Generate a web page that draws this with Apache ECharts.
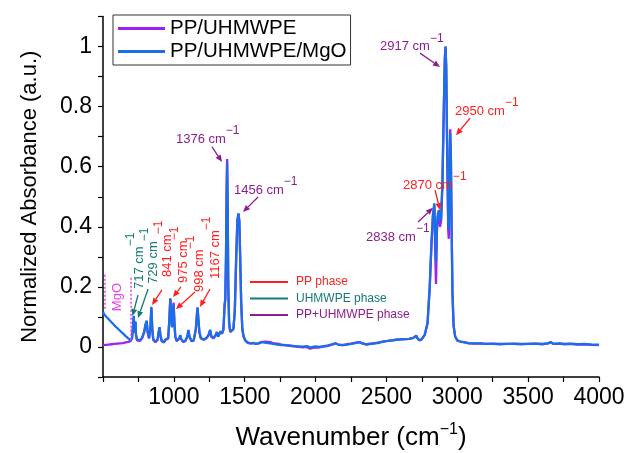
<!DOCTYPE html>
<html><head><meta charset="utf-8">
<script src="https://cdn.jsdelivr.net/npm/echarts@6/dist/echarts.min.js"></script>
<style>html,body{margin:0;padding:0;background:#fff}#c{width:629px;height:453px}</style>
</head><body><div id="c"></div>
<script>
// ---- data ----
const wavenumbers = [500,506,520,540,560,580,600,620,640,660,680,695,705,712,717,721,725,729,733,740,750,760,775,790,800,808,815,825,834,841,848,855,870,885,893,899,905,915,930,941,950,960,968,975,981,987,993,998,1004,1010,1020,1030,1040,1045,1050,1065,1080,1095,1103,1110,1125,1140,1155,1163,1167,1172,1180,1190,1210,1230,1245,1256,1265,1280,1295,1304,1312,1322,1330,1340,1350,1358,1363,1368,1372,1376,1380,1384,1390,1398,1410,1420,1430,1440,1448,1456,1462,1468,1475,1483,1492,1505,1520,1540,1560,1580,1600,1620,1650,1680,1700,1730,1760,1790,1820,1850,1880,1910,1940,1960,1980,2000,2020,2050,2080,2110,2140,2160,2190,2220,2250,2280,2310,2330,2360,2390,2420,2450,2480,2510,2540,2570,2600,2630,2660,2690,2710,2720,2735,2750,2770,2790,2805,2818,2828,2838,2845,2850,2856,2862,2870,2878,2886,2895,2905,2912,2917,2922,2929,2936,2940,2945,2950,2955,2960,2966,2974,2985,3000,3020,3050,3080,3120,3160,3200,3250,3300,3350,3400,3450,3500,3550,3600,3640,3660,3680,3720,3760,3800,3850,3900,3950,4000];
const mgoValues = [0.118,0.110,0.102,0.092,0.082,0.072,0.063,0.054,0.045,0.036,0.028,0.022,0.030,0.070,0.104,0.060,0.050,0.085,0.040,0.025,0.020,0.022,0.030,0.050,0.075,0.088,0.050,0.030,0.060,0.134,0.060,0.025,0.018,0.025,0.050,0.066,0.040,0.020,0.017,0.025,0.020,0.030,0.090,0.162,0.100,0.065,0.100,0.142,0.080,0.035,0.020,0.022,0.030,0.040,0.028,0.018,0.020,0.035,0.057,0.035,0.020,0.022,0.060,0.110,0.132,0.100,0.050,0.030,0.025,0.030,0.040,0.057,0.035,0.030,0.040,0.050,0.035,0.040,0.052,0.045,0.060,0.140,0.160,0.300,0.500,0.612,0.450,0.200,0.080,0.050,0.048,0.060,0.120,0.300,0.420,0.445,0.420,0.300,0.150,0.060,0.035,0.022,0.015,0.012,0.014,0.010,0.012,0.016,0.014,0.012,0.010,0.008,0.006,0.005,0.004,0.003,0.002,0.001,0.003,-0.002,0.000,0.002,0.000,0.002,0.004,0.008,0.012,0.008,0.006,0.008,0.010,0.013,0.016,0.012,0.008,0.010,0.012,0.014,0.018,0.020,0.022,0.024,0.025,0.026,0.027,0.030,0.038,0.028,0.022,0.026,0.040,0.080,0.200,0.350,0.440,0.478,0.350,0.280,0.400,0.440,0.456,0.420,0.430,0.550,0.800,0.960,1.000,0.930,0.650,0.420,0.390,0.550,0.712,0.620,0.400,0.180,0.070,0.035,0.022,0.018,0.016,0.013,0.012,0.012,0.010,0.011,0.010,0.010,0.011,0.010,0.010,0.011,0.010,0.012,0.016,0.010,0.012,0.010,0.011,0.009,0.010,0.008,0.008];
const ppValues = [0.006,0.006,0.007,0.008,0.009,0.010,0.011,0.012,0.013,0.015,0.017,0.020,0.030,0.068,0.100,0.058,0.048,0.082,0.038,0.022,0.018,0.020,0.028,0.048,0.072,0.085,0.048,0.028,0.058,0.130,0.058,0.023,0.016,0.023,0.048,0.064,0.038,0.018,0.015,0.023,0.018,0.028,0.088,0.160,0.098,0.068,0.102,0.148,0.082,0.034,0.019,0.021,0.029,0.039,0.027,0.017,0.019,0.034,0.055,0.034,0.019,0.021,0.058,0.108,0.130,0.098,0.049,0.029,0.024,0.029,0.039,0.055,0.034,0.029,0.039,0.049,0.034,0.039,0.051,0.044,0.058,0.138,0.158,0.300,0.510,0.626,0.455,0.200,0.080,0.050,0.047,0.059,0.118,0.298,0.418,0.443,0.418,0.298,0.150,0.060,0.034,0.021,0.014,0.012,0.013,0.010,0.013,0.017,0.018,0.016,0.013,0.011,0.008,0.006,0.004,0.002,0.000,-0.001,0.000,-0.006,-0.003,-0.001,-0.002,0.001,0.003,0.007,0.012,0.008,0.006,0.009,0.011,0.014,0.016,0.012,0.009,0.011,0.013,0.015,0.019,0.020,0.022,0.024,0.025,0.026,0.027,0.030,0.037,0.028,0.022,0.026,0.040,0.078,0.190,0.340,0.435,0.470,0.300,0.210,0.380,0.430,0.450,0.400,0.420,0.540,0.790,0.955,1.000,0.930,0.640,0.390,0.360,0.560,0.725,0.630,0.400,0.180,0.070,0.035,0.022,0.018,0.015,0.012,0.011,0.012,0.010,0.010,0.009,0.010,0.010,0.009,0.010,0.011,0.009,0.012,0.016,0.010,0.011,0.009,0.010,0.008,0.009,0.007,0.006];
const seriesNames = ['PP/UHMWPE', 'PP/UHMWPE/MgO'];
const xTickLabels = [1000, 1500, 2000, 2500, 3000, 3500, 4000];
const yTickLabels = ['0', '0.2', '0.4', '0.6', '0.8', '1'];

// peak annotations (data coordinates)
const peakNames = ['2917','2950','2870','2838','1376','1456','717','729','841','975','998','1167'];
const peakPhase = ['both','pp','pp','both','both','both','pe','pe','pp','pp','pp','pp'];
const peakVertical = [0,0,0,0,0,0,1,1,1,1,1,1];
const peakLabelAt = [[2455,1.0],[2984,0.785],[2617,0.539],[2356,0.366],[1015,0.692],[1424,0.522],[754,0.193],[853,0.21],[952,0.233],[1064,0.213],[1177,0.183],[1290,0.226]];
const peakArrowFrom = [[2737,0.978],[3090,0.762],[2843,0.522],[2723,0.416],[1269,0.666],[1594,0.499],[747,0.173],[818,0.193],[916,0.19],[1050,0.2],[1149,0.183],[1255,0.193]];
const peakArrowTo = [[2878,0.932],[2991,0.705],[2878,0.456],[2828,0.463],[1340,0.616],[1488,0.449],[708,0.103],[747,0.096],[846,0.14],[994,0.166],[1015,0.126],[1184,0.133]];
const phaseNames = ['PP phase', 'UHMWPE phase', 'PP+UHMWPE phase'];
const phaseKeys = ['pp', 'pe', 'both'];
const mgoText = 'MgO';
const mgoTextAt = [599, 0.166];
const mgoBounds = [[[514, 0.24], [514, 0.123]], [[698, 0.23], [698, 0.02]]];

// ---- styles ----
const FONT = 'Liberation Sans, Arial, Helvetica, sans-serif';
const phaseColor = { pp: '#FF1F1F', pe: '#137B76', both: '#8E1C8E' };
const lineColors = ['#A020F0', '#1A6FE6'];
const mgoColor = '#EC3CEC';

function arrow(api, from, to, color) {
  const p1 = api.coord(from), p2 = api.coord(to);
  const dx = p2[0] - p1[0], dy = p2[1] - p1[1], len = Math.hypot(dx, dy) || 1;
  const ux = dx / len, uy = dy / len, hl = 7, hw = 3;
  const bx = p2[0] - ux * hl, by = p2[1] - uy * hl;
  return [
    { type: 'line', shape: { x1: p1[0], y1: p1[1], x2: bx, y2: by }, style: { stroke: color, lineWidth: 1.3 } },
    { type: 'polygon', shape: { points: [[p2[0], p2[1]], [bx - uy * hw, by + ux * hw], [bx + uy * hw, by - ux * hw]] }, style: { fill: color } }
  ];
}

const chart = echarts.init(document.getElementById('c'), null, { renderer: 'canvas' });
chart.setOption({
  animation: false,
  backgroundColor: '#fff',
  textStyle: { fontFamily: FONT },
  grid: { left: 103, right: 30, top: 16.5, bottom: 76, containLabel: false, outerBoundsMode: 'none' },
  legend: {
    data: seriesNames, orient: 'vertical', left: 113, top: 15,
    borderColor: '#333', borderWidth: 1, padding: [3, 4, 3, 5], itemGap: 2,
    itemWidth: 47, itemHeight: 3, icon: 'rect',
    textStyle: { fontSize: 20.5, color: '#000', fontFamily: FONT }
  },
  xAxis: {
    type: 'value', min: 500, max: 4000, interval: 250,
    name: 'Wavenumber (cm{s|−1})', nameLocation: 'middle', nameGap: 45,
    nameTextStyle: { fontSize: 26, color: '#000', fontFamily: FONT, rich: { s: { fontSize: 16, padding: [0, 0, 16, 0], fontFamily: FONT, color: '#000' } } },
    axisLine: { onZero: false, lineStyle: { color: '#000', width: 1.5 } },
    axisTick: { inside: false, length: 5, lineStyle: { color: '#000', width: 1.2 } },
    axisLabel: { fontSize: 23, color: '#000', margin: 9, fontFamily: FONT,
      formatter: v => xTickLabels.indexOf(Math.round(v)) >= 0 ? String(Math.round(v)) : '' },
    splitLine: { show: false }
  },
  yAxis: {
    type: 'value', min: -0.1, max: 1.1, interval: 0.1,
    name: 'Normalized Absorbance (a.u.)', nameLocation: 'middle', nameGap: 62,
    nameTextStyle: { fontSize: 22, color: '#000', fontFamily: FONT },
    axisLine: { show: true, onZero: false, lineStyle: { color: '#000', width: 1.5 } },
    axisTick: { show: true, inside: false, length: 5, lineStyle: { color: '#000', width: 1.2 } },
    axisLabel: { fontSize: 23, color: '#000', margin: 11, fontFamily: FONT,
      formatter: v => { const r = Math.round(v * 10); if (r < 0 || r % 2) return ''; return yTickLabels[r / 2]; } },
    splitLine: { show: false }
  },
  graphic: phaseNames.flatMap((n, i) => [
    { type: 'line', shape: { x1: 250, y1: 282 + i * 16.5, x2: 288, y2: 282 + i * 16.5 }, style: { stroke: phaseColor[phaseKeys[i]], lineWidth: 2 }, z: 100 },
    { type: 'text', x: 296, y: 282 + i * 16.5, style: { text: n, fill: phaseColor[phaseKeys[i]], fontSize: 12, fontFamily: FONT, verticalAlign: 'middle', align: 'left' }, z: 100 }
  ]),
  series: [
    { name: seriesNames[0], type: 'line', showSymbol: false, data: wavenumbers.map((w, i) => [w, ppValues[i]]),
      lineStyle: { color: lineColors[0], width: 2.3 }, itemStyle: { color: lineColors[0] }, z: 2 },
    { name: seriesNames[1], type: 'line', showSymbol: false, data: wavenumbers.map((w, i) => [w, mgoValues[i]]),
      lineStyle: { color: lineColors[1], width: 2.3 }, itemStyle: { color: lineColors[1] }, z: 3 },
    { type: 'custom', z: 10, silent: true,
      data: peakLabelAt.map((p, i) => [p[0], p[1], i]),
      encode: { x: 0, y: 1 },
      renderItem: (params, api) => {
        const i = params.dataIndex;
        const color = phaseColor[peakPhase[i]];
        const p = api.coord(peakLabelAt[i]);
        const text = {
          type: 'text', x: p[0], y: p[1], rotation: peakVertical[i] ? Math.PI / 2 : 0,
          style: { text: '{a|' + peakNames[i] + ' cm}{s|−1}', fill: color, fontFamily: FONT, fontSize: 13,
            align: 'left', verticalAlign: 'middle',
            rich: { a: { fontSize: 13, fill: color, fontFamily: FONT }, s: { fontSize: 12, fill: color, fontFamily: FONT, padding: [0, 0, 16, 0] } } }
        };
        return { type: 'group', children: [text].concat(arrow(api, peakArrowFrom[i], peakArrowTo[i], color)) };
      }
    },
    { type: 'custom', z: 9, silent: true,
      data: [[mgoTextAt[0], mgoTextAt[1]]],
      encode: { x: 0, y: 1 },
      renderItem: (params, api) => {
        const p = api.coord(mgoTextAt);
        const kids = mgoBounds.map(seg => {
          const a = api.coord(seg[0]), b = api.coord(seg[1]);
          return { type: 'line', shape: { x1: a[0], y1: a[1], x2: b[0], y2: b[1] }, style: { stroke: mgoColor, lineWidth: 1.5, lineDash: [2, 2] } };
        });
        kids.push({ type: 'text', x: p[0], y: p[1], rotation: Math.PI / 2,
          style: { text: mgoText, fill: mgoColor, fontSize: 13, fontFamily: FONT, align: 'center', verticalAlign: 'middle' } });
        return { type: 'group', children: kids };
      }
    }
  ]
});
</script></body></html>
